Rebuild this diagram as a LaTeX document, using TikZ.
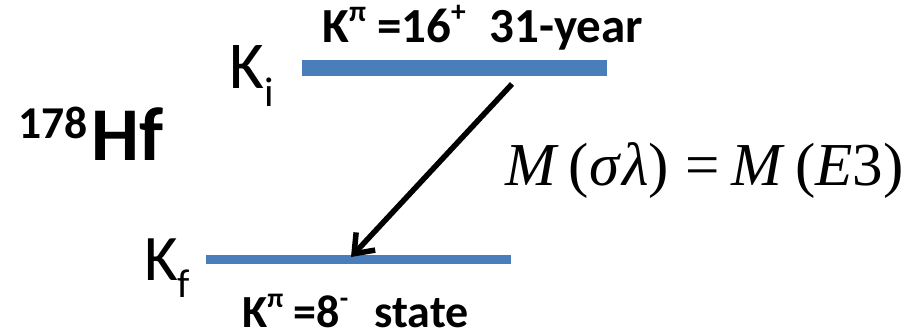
\documentclass[tikz,border=0pt]{standalone}
\usepackage{fontspec}
\setmainfont{Carlito}
\newfontfamily\timesfont{Liberation Serif}
\usepackage{tikz}
\usetikzlibrary{positioning, arrows.meta}
\definecolor{levelBlue}{HTML}{4A7EBB}
\newcommand{\ksup}[1]{\raisebox{0.42em}{\scalebox{0.6}{#1}}}
\newcommand{\ksub}[1]{\raisebox{-0.27em}{\scalebox{0.62}{#1}}}
\newcommand{\fsz}[1]{\fontsize{#1}{#1}\selectfont}
\tikzset{
  kbar/.style={rectangle, fill=levelBlue, inner sep=0pt, minimum width=305pt},
  lbl/.style={anchor=base west, inner sep=0pt},
}

\begin{document}
\begin{tikzpicture}[x=1pt, y=-1pt, >={Straight Barb[length=17pt, width=26pt]}]
\useasboundingbox (0,0) rectangle (912,333);

% --- LEVELS ---
\node[kbar, minimum height=16pt] (upper) at (454.5,68) {};
\node[kbar, minimum height=9pt]  (lower) at (358.5,259.5) {};

% --- LEVEL LABELS ---
\node[lbl, font=\fsz{67}] (ki) at (229,88) {K\ksub{i}};
\node[lbl, font=\fsz{65}] (kf) at (144,280) {K\ksub{f}};
\node[lbl, font=\fsz{49}\bfseries] (upstate) at (322,42)
  {K\ksup{π} =16\ksup{+}\hspace{24pt}31-year};
\node[lbl, font=\fsz{46}\bfseries] (lowstate) at (242,327)
  {K\ksup{π} =8\ksup{-}\hspace{26pt}state};

% --- NUCLEUS ---
\node[lbl, font=\fsz{76}\bfseries] (hf) at (18,160)
  {\raisebox{22pt}{\scalebox{0.6}{178}}\hspace{4pt}Hf};

% --- TRANSITION ---
\coordinate (src) at (512,84);
\coordinate (dst) at (351,257);
\draw[->, line width=5.5pt] (src) -- (dst);
\node[lbl, font=\timesfont\fsz{61}] (mult) at (505,185)
  {\textit{M}\,(\textit{σ}\hspace{1pt}\textit{λ})\hspace{16pt}=\hspace{12pt}\textit{M}\,(\textit{E}3)};

\end{tikzpicture}
\end{document}
